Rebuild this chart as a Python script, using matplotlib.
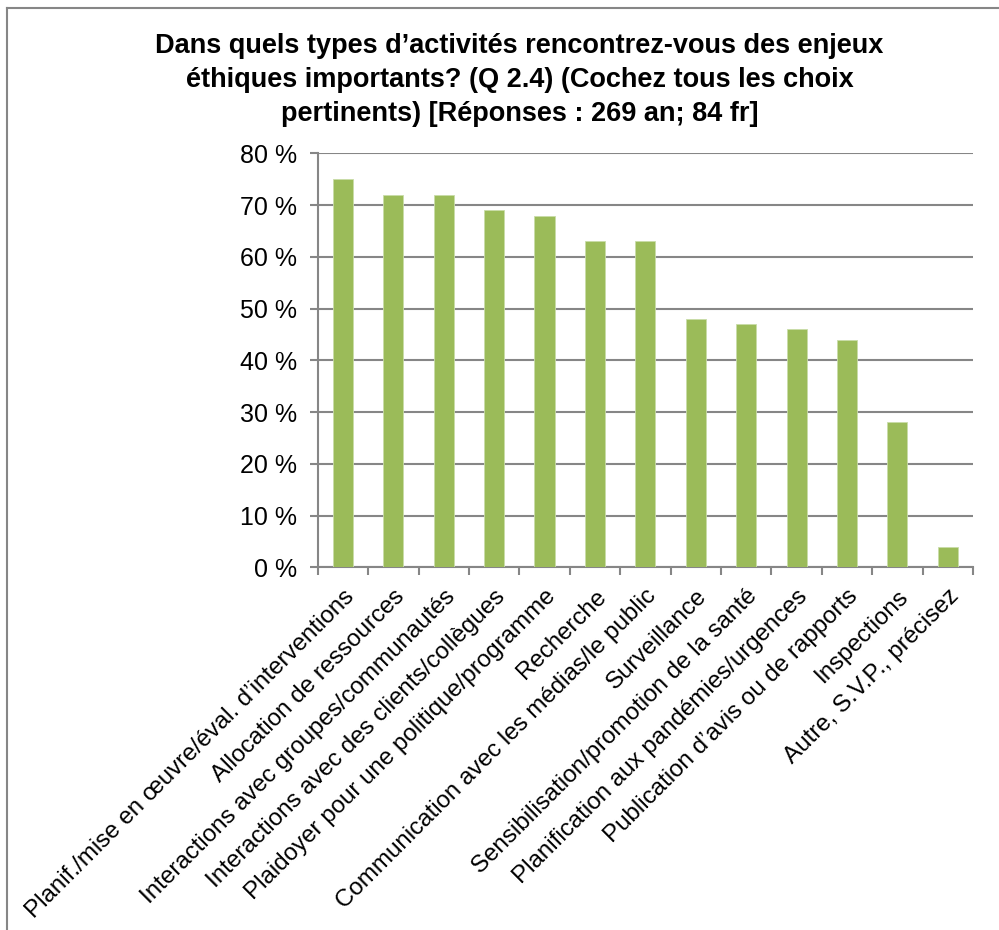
import matplotlib.pyplot as plt
import numpy as np
from matplotlib.lines import Line2D

# Données
categories = [
    "Planif./mise en œuvre/éval. d\u2019interventions",
    "Allocation de ressources",
    "Interactions avec groupes/communautés",
    "Interactions avec des clients/collègues",
    "Plaidoyer pour une politique/programme",
    "Recherche",
    "Communication avec les médias/le public",
    "Surveillance",
    "Sensibilisation/promotion de la santé",
    "Planification aux pandémies/urgences",
    "Publication d\u2019avis ou de rapports",
    "Inspections",
    "Autre, S.V.P., précisez",
]
values = [75, 72, 72, 69, 68, 63, 63, 48, 47, 46, 44, 28, 4]
y_ticks = [0, 10, 20, 30, 40, 50, 60, 70, 80]
y_labels = [f"{v} %" for v in y_ticks]

title = ("Dans quels types d\u2019activités rencontrez-vous des enjeux\n"
         "éthiques importants? (Q 2.4) (Cochez tous les choix\n"
         "pertinents) [Réponses : 269 an; 84 fr]")

plt.rcParams["font.family"] = ["Liberation Sans", "DejaVu Sans"]

fig = plt.figure(figsize=(9.99, 9.30), dpi=100)
ax = fig.add_axes([0.318, 0.390, 0.656, 0.445])

grey = "#868686"
x = np.arange(len(categories))
ax.bar(x, values, width=0.4, color="#9BBB59", edgecolor="#C9DDA8", linewidth=0.6, zorder=3)

ax.set_xlim(-0.5, len(categories) - 0.5)
ax.set_ylim(0, 80)
ax.set_yticks(y_ticks)
ax.set_yticklabels(y_labels, fontsize=18)
ax.yaxis.grid(True, color=grey, linewidth=1.5, zorder=0)

# graduations entre les catégories
ax.set_xticks(np.arange(len(categories) + 1) - 0.5)
ax.set_xticklabels([])
ax.set_xticks(x, minor=True)
ax.set_xticklabels(categories, minor=True, rotation=45, ha="right",
                   rotation_mode="anchor", fontsize=17.4)
ax.tick_params(axis="x", which="minor", length=0, pad=13)
ax.tick_params(axis="x", which="major", length=6, width=1.5, color=grey, direction="out")
ax.tick_params(axis="y", length=6, width=1.5, color=grey, pad=9)

for side in ["top", "right"]:
    ax.spines[side].set_visible(False)
for side in ["left", "bottom"]:
    ax.spines[side].set_color(grey)
    ax.spines[side].set_linewidth(1.5)

fig.text(0.52, 0.965, title, ha="center", va="top", fontsize=19.5,
         fontweight="bold", linespacing=1.42)

# cadre du graphique
fig.add_artist(Line2D([7 / 999, 7 / 999], [0, 1 - 8 / 930], color=grey, linewidth=1.5))
fig.add_artist(Line2D([7 / 999, 1], [1 - 8 / 930, 1 - 8 / 930], color=grey, linewidth=1.5))

fig.savefig("out.png", dpi=100)
